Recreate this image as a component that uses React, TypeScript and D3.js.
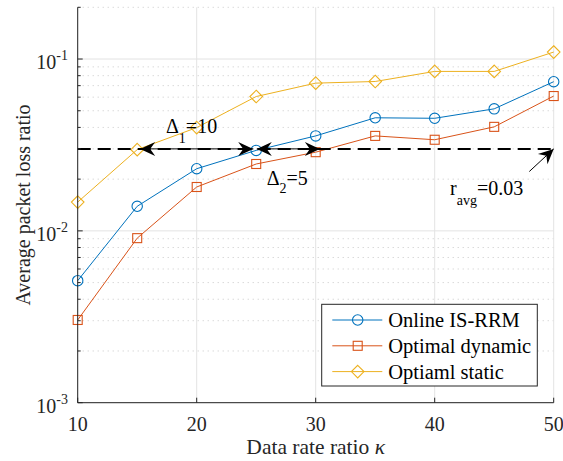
import React from 'react';
import * as d3 from 'd3';

// data rate ratio kappa
const kappa = [10, 15, 20, 25, 30, 35, 40, 45, 50];

const onlineIsRrm = [0.00513, 0.0139, 0.0230, 0.0294, 0.0357, 0.0455, 0.0452, 0.0513, 0.0738];
const optimalDynamic = [0.00303, 0.00907, 0.0180, 0.0245, 0.0287, 0.0357, 0.0339, 0.0403, 0.0609];
const optimalStatic = [0.0147, 0.0297, 0.0399, 0.0605, 0.0724, 0.0740, 0.0847, 0.0847, 0.1098];

const seriesNames = ['Online IS-RRM', 'Optimal dynamic', 'Optiaml static'];
const seriesColors = ['#0072BD', '#D95319', '#EDB120'];
const seriesMarkers = ['circle', 'square', 'diamond'];

const xTicks = [10, 20, 30, 40, 50];
const yTicks = [1e-3, 1e-2, 1e-1];
const yTickExp = ['-3', '-2', '-1'];

const rAvg = 0.03;
// double arrows along r_avg (data coords of the two tips)
const deltaArrows = [
  { a: 15.25, b: 24.75 },
  { a: 25.05, b: 30.35 },
];

const W = 563, H = 461;
const margin = { left: 77.7, right: 9.3, top: 7.3, bottom: 58.3 };
const font = '"Liberation Serif", "Times New Roman", serif';
const axisColor = '#262626';

const x = d3.scaleLinear().domain([10, 50]).range([margin.left, W - margin.right]);
const y = d3.scaleLog().domain([1e-3, 0.2]).range([H - margin.bottom, margin.top]);

const minorTicks: number[] = [];
for (let e = -3; e <= -1; e++) {
  for (let m = 2; m <= 9; m++) {
    const v = m * Math.pow(10, e);
    if (v <= 0.2) minorTicks.push(v);
  }
}

const Marker = ({ type, cx, cy, color }: any) => {
  if (type === 'circle') return <circle cx={cx} cy={cy} r={5.2} fill="none" stroke={color} strokeWidth={1.1} />;
  if (type === 'square') return <rect x={cx - 4.5} y={cy - 4.5} width={9} height={9} fill="none" stroke={color} strokeWidth={1.1} />;
  const s = 6.3;
  return <path d={`M${cx},${cy - s}L${cx + s},${cy}L${cx},${cy + s}L${cx - s},${cy}Z`} fill="none" stroke={color} strokeWidth={1.1} />;
};

// matlab-ish vback2 arrow head
const arrowHead = (tx: number, ty: number, fx: number, fy: number) => {
  const dx = tx - fx, dy = ty - fy;
  const len = Math.sqrt(dx * dx + dy * dy);
  const ux = dx / len, uy = dy / len;
  const nx = -uy, ny = ux;
  const L = 15, hw = 7, notch = 10;
  const p1 = [tx - L * ux + hw * nx, ty - L * uy + hw * ny];
  const p2 = [tx - notch * ux, ty - notch * uy];
  const p3 = [tx - L * ux - hw * nx, ty - L * uy - hw * ny];
  return `M${tx},${ty}L${p1[0]},${p1[1]}L${p2[0]},${p2[1]}L${p3[0]},${p3[1]}Z`;
};

const App = () => {
  const allSeries = [onlineIsRrm, optimalDynamic, optimalStatic];
  const line = d3.line<number>().x((_, i) => x(kappa[i])).y(d => y(d));
  const y0 = y(1e-3);
  const yr = y(rAvg);

  const legX = 321.7, legY = 304.3, legW = 215.6, legH = 81.7;

  return (
    <svg width={W} height={H} style={{ position: 'absolute', left: 0, top: 0, background: '#fff' }} fontFamily={font}>
      <rect width={W} height={H} fill="#fff" />
      {/* grid */}
      {minorTicks.map(v => (
        <line key={'mg' + v} x1={x(10)} x2={x(50)} y1={y(v)} y2={y(v)} stroke="#c8c8c8" strokeWidth={1} strokeDasharray="1,4" />
      ))}
      {yTicks.map(v => (
        <line key={'yg' + v} x1={x(10)} x2={x(50)} y1={y(v)} y2={y(v)} stroke="#e3e3e3" strokeWidth={1} />
      ))}
      {xTicks.map(v => (
        <line key={'xg' + v} x1={x(v)} x2={x(v)} y1={margin.top} y2={y0} stroke="#e3e3e3" strokeWidth={1} />
      ))}

      {/* series */}
      {allSeries.map((s, si) => (
        <g key={si}>
          <path d={line(s) || ''} fill="none" stroke={seriesColors[si]} strokeWidth={1} />
          {s.map((v, i) => (
            <Marker key={i} type={seriesMarkers[si]} cx={x(kappa[i])} cy={y(v)} color={seriesColors[si]} />
          ))}
        </g>
      ))}

      {/* r_avg dashed line */}
      <line x1={x(10)} x2={x(50)} y1={yr} y2={yr} stroke="#000" strokeWidth={2} strokeDasharray="13,7" />

      {/* delta arrows */}
      {deltaArrows.map((a, i) => (
        <g key={'da' + i}>
          <line x1={x(a.a)} x2={x(a.b)} y1={yr} y2={yr} stroke="#000" strokeWidth={1} />
          <path d={arrowHead(x(a.a), yr, x(a.b), yr)} fill="#000" />
          <path d={arrowHead(x(a.b), yr, x(a.a), yr)} fill="#000" />
        </g>
      ))}
      {/* r_avg arrow */}
      <line x1={x(47.95)} y1={y(0.02215)} x2={x(50)} y2={yr} stroke="#000" strokeWidth={1} />
      <path d={arrowHead(x(50), yr, x(47.95), y(0.02215))} fill="#000" />

      {/* annotation labels */}
      <text x={x(17.42)} y={y(0.0372)} fontSize={20} fill="#000">
        Δ<tspan dy={10} fontSize={14}>1</tspan><tspan dy={-10}>=10</tspan>
      </text>
      <text x={x(25.88)} y={y(0.01854)} fontSize={20} fill="#000">
        Δ<tspan dy={8} fontSize={14}>2</tspan><tspan dy={-8}>=5</tspan>
      </text>
      <text x={x(41.29)} y={y(0.0162)} fontSize={20} fill="#000">
        r<tspan dy={10} fontSize={14}>avg</tspan><tspan dy={-10}>=0.03</tspan>
      </text>

      {/* axes */}
      <line x1={x(10)} x2={x(50)} y1={y0} y2={y0} stroke={axisColor} strokeWidth={1} />
      <line x1={x(10)} x2={x(10)} y1={margin.top} y2={y0} stroke={axisColor} strokeWidth={1} />
      {xTicks.map(v => (
        <g key={'xt' + v}>
          <line x1={x(v)} x2={x(v)} y1={y0} y2={y0 - 5} stroke={axisColor} />
          <text x={x(v)} y={y0 + 28} fontSize={20} textAnchor="middle" fill={axisColor}>{v}</text>
        </g>
      ))}
      {minorTicks.map(v => (
        <line key={'ymt' + v} x1={x(10)} x2={x(10) + 3} y1={y(v)} y2={y(v)} stroke={axisColor} />
      ))}
      {yTicks.map((v, i) => (
        <g key={'yt' + v}>
          <line x1={x(10)} x2={x(10) + 5} y1={y(v)} y2={y(v)} stroke={axisColor} />
          <text x={68} y={y(v) + 10} fontSize={20} textAnchor="end" fill={axisColor}>
            10<tspan dy={-9} fontSize={14}>{yTickExp[i]}</tspan>
          </text>
        </g>
      ))}

      <text x={(x(10) + x(50)) / 2} y={454} fontSize={21.5} textAnchor="middle" fill={axisColor}>
        Data rate ratio <tspan fontStyle="italic">κ</tspan>
      </text>
      <text transform={`translate(30,${(margin.top + y0) / 2}) rotate(-90)`} fontSize={20} textAnchor="middle" fill={axisColor}>
        Average packet loss ratio
      </text>

      {/* legend */}
      <rect x={legX} y={legY} width={legW} height={legH} fill="#fff" stroke={axisColor} strokeWidth={1} />
      {seriesNames.map((n, i) => {
        const ly = legY + 15.7 + i * 25.8;
        return (
          <g key={'lg' + i}>
            <line x1={legX + 10.6} x2={legX + 60.6} y1={ly} y2={ly} stroke={seriesColors[i]} strokeWidth={1} />
            <Marker type={seriesMarkers[i]} cx={legX + 36} cy={ly} color={seriesColors[i]} />
            <text x={legX + 66.6} y={ly + 7} fontSize={20.5} fill="#000">{n}</text>
          </g>
        );
      })}
    </svg>
  );
};

export default App;
